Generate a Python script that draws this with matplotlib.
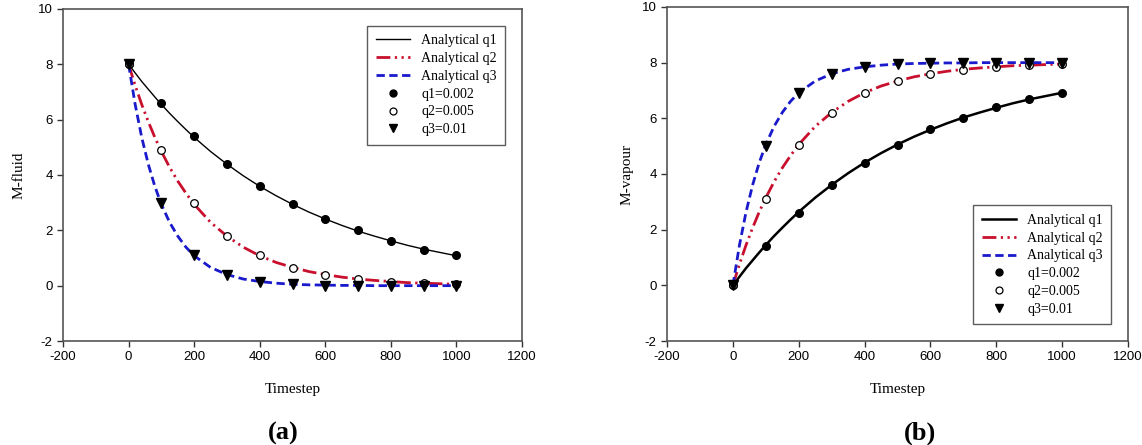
import matplotlib.pyplot as plt
from matplotlib.lines import Line2D

# timestep grid for the analytical curves
t_line = [0, 20, 40, 60, 80, 100, 125, 150, 175, 200, 250, 300, 350, 400, 450,
          500, 550, 600, 650, 700, 750, 800, 850, 900, 950, 1000]

fluid_q1 = [8.00, 7.69, 7.38, 7.10, 6.82, 6.55, 6.23, 5.93, 5.64, 5.36, 4.85, 4.39, 3.97,
            3.59, 3.25, 2.94, 2.66, 2.41, 2.18, 1.97, 1.79, 1.62, 1.46, 1.32, 1.20, 1.08]
fluid_q2 = [8.00, 7.24, 6.55, 5.93, 5.36, 4.85, 4.28, 3.78, 3.34, 2.94, 2.29, 1.79, 1.39,
            1.08, 0.84, 0.66, 0.51, 0.40, 0.31, 0.24, 0.19, 0.15, 0.11, 0.09, 0.07, 0.05]
fluid_q3 = [8.00, 6.55, 5.36, 4.39, 3.59, 2.94, 2.29, 1.79, 1.39, 1.08, 0.66, 0.40, 0.24,
            0.15, 0.09, 0.05, 0.03, 0.02, 0.01, 0.01, 0.00, 0.00, 0.00, 0.00, 0.00, 0.00]

vap_q1 = [0.00, 0.31, 0.62, 0.90, 1.18, 1.45, 1.77, 2.07, 2.36, 2.64, 3.15, 3.61, 4.03,
          4.41, 4.75, 5.06, 5.34, 5.59, 5.82, 6.03, 6.21, 6.38, 6.54, 6.68, 6.80, 6.92]
vap_q2 = [0.00, 0.76, 1.45, 2.07, 2.64, 3.15, 3.72, 4.22, 4.66, 5.06, 5.71, 6.21, 6.61,
          6.92, 7.16, 7.34, 7.49, 7.60, 7.69, 7.76, 7.81, 7.85, 7.89, 7.91, 7.93, 7.95]
vap_q3 = [0.00, 1.45, 2.64, 3.61, 4.41, 5.06, 5.71, 6.21, 6.61, 6.92, 7.34, 7.60, 7.76,
          7.85, 7.91, 7.95, 7.97, 7.98, 7.99, 7.99, 8.00, 8.00, 8.00, 8.00, 8.00, 8.00]

# simulated points
t_pts = [0, 100, 200, 300, 400, 500, 600, 700, 800, 900, 1000]
fluid_p1 = [8.0, 6.6, 5.4, 4.4, 3.6, 2.95, 2.4, 2.0, 1.6, 1.3, 1.1]
fluid_p2 = [8.0, 4.9, 3.0, 1.8, 1.1, 0.65, 0.4, 0.25, 0.15, 0.1, 0.05]
fluid_p3 = [8.0, 3.0, 1.1, 0.4, 0.15, 0.05, 0.0, 0.0, 0.0, 0.0, 0.0]
vap_p1 = [0.0, 1.4, 2.6, 3.6, 4.4, 5.05, 5.6, 6.0, 6.4, 6.7, 6.9]
vap_p2 = [0.0, 3.1, 5.05, 6.2, 6.9, 7.35, 7.6, 7.75, 7.85, 7.9, 7.95]
vap_p3 = [0.0, 5.0, 6.9, 7.6, 7.85, 7.95, 8.0, 8.0, 8.0, 8.0, 8.0]

legend_labels = ['Analytical q1', 'Analytical q2', 'Analytical q3',
                 'q1=0.002', 'q2=0.005', 'q3=0.01']

RED = '#c8102e'
BLUE = '#1a1acc'
DASHDOTDOT = (0, (5, 1.6, 0.8, 1.6, 0.8, 1.6))
DASHED = (0, (3, 1.6))

plt.rcParams['font.family'] = 'Liberation Sans'
plt.rcParams['axes.unicode_minus'] = False
serif = 'Liberation Serif'

fig = plt.figure(figsize=(11.42, 4.45), dpi=100)
ax1 = fig.add_axes([0.0552, 0.2337, 0.4019, 0.7461])
ax2 = fig.add_axes([0.5841, 0.2337, 0.4037, 0.7506])


def draw(ax, l1, l2, l3, p1, p2, p3, lw1, ylabel, ypad, legend_loc):
    ax.plot(t_line, l1, color='black', lw=lw1, zorder=2)
    ax.plot(t_line, l2, color=RED, lw=2.0, linestyle=DASHDOTDOT, zorder=2)
    ax.plot(t_line, l3, color=BLUE, lw=2.0, linestyle=DASHED, zorder=2)
    ax.plot(t_pts, p1, 'o', color='black', ms=5.5, zorder=3)
    ax.plot(t_pts, p2, 'o', mfc='white', mec='black', mew=0.9, ms=5.5, zorder=3)
    ax.plot(t_pts, p3, 'v', color='black', ms=6.5, zorder=3)

    ax.set_xlim(-200, 1200)
    ax.set_ylim(-2, 10)
    ax.set_xticks(range(-200, 1201, 200))
    ax.set_yticks(range(-2, 11, 2))
    ax.tick_params(direction='out', length=4, width=1, labelsize=9.5,
                   colors='#333333', labelcolor='black')
    for s in ax.spines.values():
        s.set_color('#555555')
        s.set_linewidth(1.2)
    ax.set_xlabel('Timestep', family=serif, fontsize=11, labelpad=14)
    ax.set_ylabel(ylabel, family=serif, fontsize=11, labelpad=ypad)

    handles = [
        Line2D([], [], color='black', lw=lw1),
        Line2D([], [], color=RED, lw=2.0, linestyle=DASHDOTDOT),
        Line2D([], [], color=BLUE, lw=2.0, linestyle=DASHED),
        Line2D([], [], marker='o', color='black', ls='none', ms=5),
        Line2D([], [], marker='o', mfc='white', mec='black', mew=0.9, ls='none', ms=5),
        Line2D([], [], marker='v', color='black', ls='none', ms=5.5),
    ]
    leg = ax.legend(handles, legend_labels, loc=legend_loc,
                    prop={'family': serif, 'size': 10},
                    frameon=True, fancybox=False, handlelength=2.5,
                    handletextpad=0.8, labelspacing=0.35, borderpad=0.6,
                    borderaxespad=1.2)
    leg.get_frame().set_edgecolor('#333333')
    leg.get_frame().set_linewidth(1.0)


draw(ax1, fluid_q1, fluid_q2, fluid_q3, fluid_p1, fluid_p2, fluid_p3, 1.0,
     'M-fluid', 9, 'upper right')
draw(ax2, vap_q1, vap_q2, vap_q3, vap_p1, vap_p2, vap_p3, 1.8,
     'M-vapour', 6, 'lower right')

fig.text(0.248, 0.012, '(a)', family=serif, fontsize=19, fontweight='bold', ha='center')
fig.text(0.806, 0.012, '(b)', family=serif, fontsize=19, fontweight='bold', ha='center')

fig.savefig('out.png', dpi=100)
